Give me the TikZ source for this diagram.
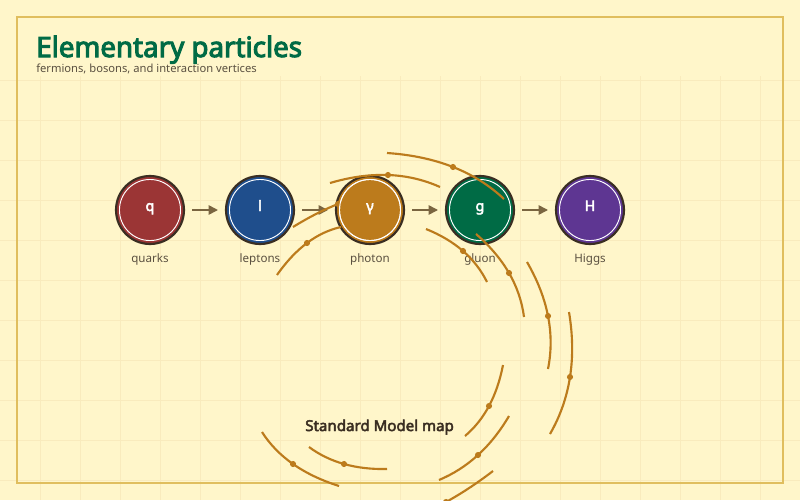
\documentclass[tikz,border=0pt]{standalone}
\usepackage{fontspec}
\setmainfont{Noto Sans}[AutoFakeBold=3.4]
\newfontfamily\titlefont[FakeStretch=0.99,AutoFakeBold=3.6]{Noto Sans}
\newfontfamily\mapfont[FakeStretch=1.01,AutoFakeBold=3.2]{Noto Sans}
\usetikzlibrary{calc,arrows.meta}
\definecolor{bgc}{HTML}{FFF6CA}
\definecolor{gridc}{HTML}{F9EBBD}
\definecolor{framec}{HTML}{E0BE5E}
\definecolor{inkc}{HTML}{3A2E22}
\definecolor{labelc}{HTML}{5A5040}
\definecolor{arrowc}{HTML}{7A6540}
\definecolor{arcc}{HTML}{BC7B1C}
\definecolor{titlec}{HTML}{006B45}
\definecolor{qc}{HTML}{9B3535}
\definecolor{lc}{HTML}{1F4E8C}
\definecolor{pc}{HTML}{BC7B1C}
\definecolor{gc}{HTML}{006B45}
\definecolor{hc}{HTML}{5E3692}
\tikzset{
  x=0.75pt,y=-0.75pt,
  particle/.style={circle,draw=inkc,line width=1.6pt,minimum size=51pt,inner sep=0pt,outer sep=0pt},
  ringline/.style={draw=white,line width=0.7pt},
  letter/.style={text=white,font=\fontsize{10.8pt}{12pt}\bfseries,inner sep=0pt},
  partlabel/.style={text=labelc,font=\fontsize{8.7pt}{11pt}\selectfont,inner sep=0pt},
  flow/.style={draw=arrowc,line width=1.2pt,-{Triangle[length=7pt,width=7pt]}},
  arcline/.style={draw=arcc,line width=1.6pt},
  arcdot/.style={fill=arcc,draw=none},
}
\newcommand{\arcp}[6]{%
  \draw[arcline] (#1,#2) .. controls ($(#3,#4)!-0.3333!(#5,#6)$) and ($(#3,#4)!-0.3333!(#1,#2)$) .. (#5,#6);}
\newcommand{\arcm}[6]{%
  \arcp{#1}{#2}{#3}{#4}{#5}{#6}
  \fill[arcdot] (#3,#4) circle (2.3pt);}
\newcommand{\particle}[5]{%
  \node[particle,fill=#2] (#1) at (#3,210) {};
  \draw[ringline] (#1.center) circle (22.9pt);
  \node[letter,anchor=base] (#1t) at (#3,211) {#4};
  \node[partlabel,anchor=base] (#1n) at (#3,262) {#5};}
\begin{document}
\begin{tikzpicture}
\useasboundingbox (0,0) rectangle (800,500);
\fill[bgc] (0,0) rectangle (800,500);
\foreach \gx in {40,80,...,760} \draw[gridc,line width=0.75pt] (\gx,76) -- (\gx,500);
\foreach \gy in {80,120,...,480} \draw[gridc,line width=0.75pt] (0,\gy) -- (800,\gy);
\draw[framec,line width=2.1pt] (17,17) rectangle (783,483);
\node[anchor=base west,inner sep=0pt,text=titlec,font=\titlefont\fontsize{21pt}{24pt}\bfseries] (title) at (36,57) {Elementary particles};
\node[anchor=base west,inner sep=0pt,text=labelc,font=\fontsize{8.4pt}{10pt}\selectfont] (sub) at (36,72) {fermions, bosons, and interaction vertices};
\particle{q}{qc}{150}{q}{quarks}
\particle{l}{lc}{260}{l}{leptons}
\particle{p}{pc}{370}{γ}{photon}
\particle{g}{gc}{480}{g}{gluon}
\particle{h}{hc}{590}{H}{Higgs}
\foreach \a/\b in {q/l,l/p,p/g,g/h} \draw[flow] ($(\a.center)+(42,0)$) -- ($(\b.center)+(-42,0)$);
\arcp{293}{227}{316}{214}{338}{204}
\fill[arcdot] (338,204) circle (2.3pt);
\arcm{277}{275}{307}{243}{341}{227}
\draw[ringline] (p.center) circle (22.9pt);
\arcm{387}{153}{453}{167}{504}{199}
\arcm{330}{183}{388}{175}{440}{187}
\arcm{426}{229}{463}{251}{487}{282}
\arcm{476}{234}{509}{273}{524}{317}
\arcm{527}{262}{548}{316}{548}{369}
\arcm{569}{312}{570}{377}{550}{434}
\arcm{503}{365}{489}{406}{465}{436}
\arcm{509}{416}{478}{455}{439}{480}
\arcm{493}{471}{446}{502}{400}{522}
\arcm{387}{469}{344}{464}{309}{447}
\arcm{339}{486}{293}{464}{262}{432}
\node[anchor=base west,inner sep=0pt,text=inkc,font=\mapfont\fontsize{11.2pt}{13pt}\bfseries] (map) at (305,431) {Standard Model map};
\end{tikzpicture}
\end{document}
